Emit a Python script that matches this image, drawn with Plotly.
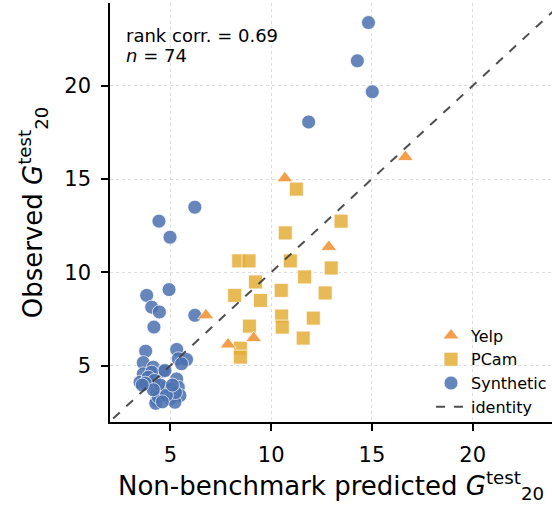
import plotly.graph_objects as go

# ---- data ----
synth_x = [14.83, 14.28, 15.02, 11.86, 6.21, 4.43, 4.98, 4.93, 3.82, 4.07, 4.45, 6.21, 4.18,
           3.77, 5.31, 3.65, 5.39, 5.80, 5.55, 4.15, 4.64, 3.65, 4.07, 3.49, 3.99, 5.31, 4.56,
           5.39, 4.89, 4.32, 5.47, 4.98, 4.32, 4.27, 5.22,
           4.73, 3.90, 4.20, 3.75, 4.50, 5.05, 5.25, 4.40, 4.80, 4.15, 5.10, 3.60, 4.60]
synth_y = [23.39, 21.34, 19.68, 18.06, 13.49, 12.74, 11.88, 9.07, 8.76, 8.13, 7.87, 7.69, 7.06,
           5.77, 5.86, 5.15, 5.36, 5.32, 5.09, 4.91, 4.69, 4.55, 4.64, 4.10, 4.02, 4.28, 3.83,
           3.83, 3.66, 3.48, 3.39, 3.21, 3.12, 2.97, 3.03,
           4.73, 4.37, 4.20, 4.05, 3.95, 3.75, 3.55, 3.30, 3.40, 3.70, 3.95, 3.95, 3.05]

pcam_x = [11.25, 13.47, 10.70, 8.39, 8.90, 10.95, 12.98, 11.66, 9.22, 10.50,
          12.68, 8.19, 9.47, 10.52, 10.55, 12.09, 8.92, 11.59, 8.47, 8.47]
pcam_y = [14.46, 12.74, 12.11, 10.61, 10.61, 10.61, 10.23, 9.75, 9.48, 9.03,
          8.89, 8.76, 8.49, 7.65, 7.06, 7.54, 7.11, 6.47, 5.93, 5.45]

yelp_x = [10.68, 12.86, 6.76, 9.13, 7.86, 16.66]
yelp_y = [15.04, 11.36, 7.69, 6.47, 6.13, 16.18]

identity_x = [1.5, 25.0]
identity_y = [1.5, 25.0]

ticks = [5, 10, 15, 20]

stats_lines = ["rank corr. = 0.69", "<i>n</i> = 74"]

FONT = "DejaVu Sans"
mk_line = dict(color="white", width=0.8)

fig = go.Figure()
fig.add_trace(go.Scatter(x=synth_x, y=synth_y, mode="markers", name="Synthetic",
                         legendrank=3,
                         marker=dict(symbol="circle", size=14, color="#4C72B0",
                                     opacity=0.85, line=mk_line)))
fig.add_trace(go.Scatter(x=pcam_x, y=pcam_y, mode="markers", name="PCam",
                         legendrank=2,
                         marker=dict(symbol="square", size=14, color="#E5AE38",
                                     opacity=0.85, line=mk_line)))
fig.add_trace(go.Scatter(x=yelp_x, y=yelp_y, mode="markers", name="Yelp",
                         legendrank=1,
                         marker=dict(symbol="triangle-up", size=14, color="#F28E2B",
                                     opacity=0.85, line=mk_line)))
fig.add_trace(go.Scatter(x=identity_x, y=identity_y, mode="lines", name="identity",
                         legendrank=4,
                         line=dict(color="rgba(60,60,60,0.9)", width=2, dash="dash")))

axis_common = dict(
    showline=True, linecolor="black", linewidth=1.5,
    ticks="outside", ticklen=7, tickwidth=1.5, tickcolor="black",
    ticklabelstandoff=6,
    tickfont=dict(family=FONT, size=21, color="black"),
    showgrid=True, gridcolor="#dddddd", gridwidth=1, griddash="dot",
    zeroline=False, tickvals=ticks, mirror=False,
)

fig.update_layout(
    width=552, height=512,
    margin=dict(l=110, r=0, t=3, b=90),
    plot_bgcolor="white", paper_bgcolor="white",
    font=dict(family=FONT, color="black"),
    xaxis=dict(range=[2.0, 23.94],
               title=dict(text="Non-benchmark predicted <i>G</i><sup>test</sup><sub>20</sub>",
                          font=dict(family=FONT, size=26), standoff=8),
               **axis_common),
    yaxis=dict(range=[1.97, 24.44],
               title=dict(text="Observed <i>G</i><sup>test</sup><sub>20</sub>",
                          font=dict(family=FONT, size=26), standoff=14),
               **axis_common),
    legend=dict(x=1.0, y=-0.006, xanchor="right", yanchor="bottom",
                bgcolor="rgba(255,255,255,0)", borderwidth=0,
                font=dict(family=FONT, size=16), itemwidth=30,
                tracegroupgap=0),
    showlegend=True,
)

for txt, yp in zip(stats_lines, [0.922, 0.874]):
    fig.add_annotation(xref="paper", yref="paper", x=0.032, y=yp,
                       xanchor="left", yanchor="middle", align="left", showarrow=False,
                       text=txt, font=dict(family=FONT, size=18, color="black"))

fig.write_html("out.html")
